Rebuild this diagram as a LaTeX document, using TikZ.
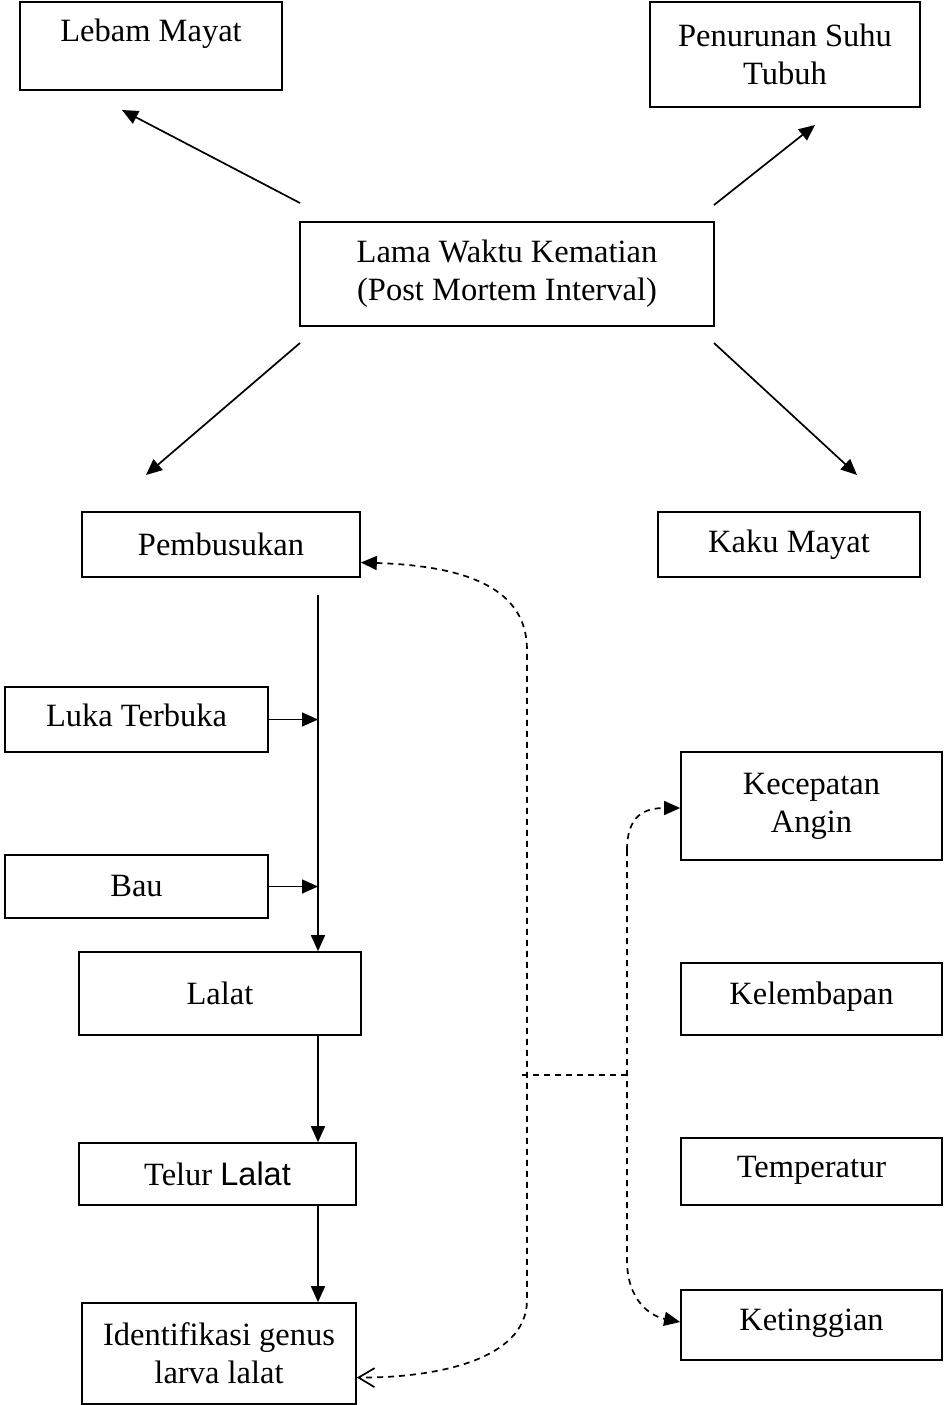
\documentclass[tikz,border=0pt]{standalone}
\usepackage{fontspec}
\setmainfont{Liberation Serif}
\newfontfamily\sansf{Liberation Sans}
\usetikzlibrary{arrows.meta}
\begin{document}
\begin{tikzpicture}[x=1pt,y=-1pt,
  box/.style={draw,line width=1.7pt,inner sep=0pt,align=center,font=\fontsize{32.5}{38}\selectfont},
  arr/.style={line width=1.7pt,-{Triangle[length=16pt,width=14pt]}},
  dline/.style={line width=1.7pt,dash pattern=on 6pt off 5pt}
]
\useasboundingbox (0,0) rectangle (945,1405);
% boxes
\node[box,minimum width=262,minimum height=88,text height=22pt,text depth=30pt] (lebam) at (151,46) {Lebam Mayat};
\node[box,minimum width=270,minimum height=105] (suhu) at (785,54.5) {Penurunan Suhu\\Tubuh};
\node[box,minimum width=414,minimum height=104] (lama) at (507,274) {Lama Waktu Kematian\\(Post Mortem Interval)};
\node[box,minimum width=278,minimum height=65] (pemb) at (221,544.5) {Pembusukan};
\node[box,minimum width=262,minimum height=65] (kaku) at (789,544.5) {Kaku Mayat};
\node[box,minimum width=263,minimum height=65,text height=24pt,text depth=10pt] (luka) at (136.5,719.5) {Luka Terbuka};
\node[box,minimum width=263,minimum height=63] (bau) at (136.5,886.5) {Bau};
\node[box,minimum width=282,minimum height=83] (lalat) at (220,993.5) {Lalat};
\node[box,minimum width=277,minimum height=62] (telur) at (217.5,1174) {Telur {\sansf Lalat}};
\node[box,minimum width=274,minimum height=101] (iden) at (219,1353.5) {Identifikasi genus\\larva lalat};
\node[box,minimum width=261,minimum height=108] (kec) at (811.5,806) {Kecepatan\\Angin};
\node[box,minimum width=261,minimum height=72,text height=22pt,text depth=12pt] (kel) at (811.5,999) {Kelembapan};
\node[box,minimum width=261,minimum height=67,text height=22pt,text depth=10pt] (temp) at (811.5,1171.5) {Temperatur};
\node[box,minimum width=261,minimum height=70,text height=22pt,text depth=12pt] (ket) at (811.5,1325) {Ketinggian};
% free ends
\coordinate (a1) at (300,203);
\coordinate (b1) at (122,110);
\coordinate (a2) at (714,205);
\coordinate (b2) at (815,125);
\coordinate (a3) at (300,343);
\coordinate (b3) at (146,475);
\coordinate (a4) at (714,343);
\coordinate (b4) at (857,475);
\coordinate (spine) at (318,595);
\coordinate (d1) at (527,650);
\coordinate (d2) at (527,1300);
\coordinate (h1) at (522,1075);
\coordinate (h2) at (627,1075);
\coordinate (r1) at (627,850);
\coordinate (r2) at (627,1260);
% solid arrows
\draw[arr] (a1) -- (b1);
\draw[arr] (a2) -- (b2);
\draw[arr] (a3) -- (b3);
\draw[arr] (a4) -- (b4);
\draw[arr] (spine) -- (spine |- lalat.north);
\draw[arr] (luka.east) -- (luka.east -| spine);
\draw[arr] (bau.east) -- (bau.east -| spine);
\draw[arr] (lalat.south -| spine) -- (telur.north -| spine);
\draw[arr] (telur.south -| spine) -- (iden.north -| spine);
% dashed connectors
\draw[dline,{Triangle[length=16pt,width=14pt]}-{Straight Barb[length=16pt,width=19pt]}]
  ([yshift=-18pt]pemb.east) .. controls (470,566) and (527,590) .. (d1) -- (d2)
  .. controls (527,1362) and (430,1378) .. ([yshift=-24pt]iden.east);
\draw[dline] (h1) -- (h2);
\draw[dline,-{Triangle[length=16pt,width=14pt]}] (r1) .. controls (627,815) and (645,808) .. ([yshift=-2pt]kec.west);
\draw[dline,-{Triangle[length=16pt,width=14pt]}] (r1) -- (r2) .. controls (627,1300) and (650,1316) .. ([yshift=3pt]ket.west);
\end{tikzpicture}
\end{document}
